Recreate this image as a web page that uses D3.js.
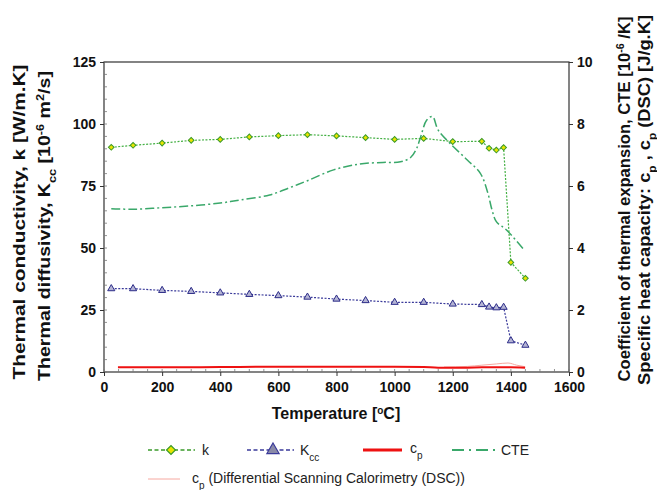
<!DOCTYPE html>
<html><head><meta charset="utf-8">
<script src="https://cdn.jsdelivr.net/npm/d3@7"></script>
<style>body{margin:0;background:#fff}svg{display:block}text{font-family:Arial,"Liberation Sans",sans-serif}</style>
</head><body><svg id="c" width="657" height="490"></svg>
<script>
// ---- data ----
const tempK = [25,100,200,300,400,500,600,700,800,900,1000,1100,1200,1300,1325,1350,1375,1400,1450];
const kVals = [90.6,91.4,92.3,93.4,93.8,94.8,95.3,95.7,95.2,94.5,93.8,94.2,92.9,93.0,90.2,89.5,90.5,44.2,37.8];
const kccVals = [33.6,33.6,32.9,32.5,31.9,31.3,30.8,30.2,29.4,28.8,28.1,28.1,27.4,27.2,26.2,25.9,26.1,12.6,10.8];
const cteT = [25,100,200,300,400,470,570,640,700,790,880,960,1020,1055,1075,1090,1110,1130,1150,1190,1250,1295,1320,1335,1350,1385,1445];
const cteVals = [5.27,5.25,5.3,5.36,5.45,5.55,5.71,5.95,6.17,6.52,6.71,6.76,6.78,6.92,7.2,7.6,8.12,8.24,7.8,7.38,6.84,6.41,5.8,5.23,4.85,4.58,3.94];
const cpT = [48,200,400,600,800,1000,1100,1150,1250,1300,1350,1400,1449];
const cpVals = [0.15,0.15,0.16,0.17,0.17,0.17,0.16,0.14,0.14,0.15,0.15,0.15,0.14];
const dscT = [1170,1250,1300,1350,1390,1420,1449];
const dscVals = [0.16,0.18,0.22,0.26,0.29,0.22,0.17];
const xTicks = [0,200,400,600,800,1000,1200,1400,1600];
const yLeftTicks = [0,25,50,75,100,125];
const yRightTicks = [0,2,4,6,8,10];

// ---- layout ----
const L=104,R=569,T=62,B=372;
const svg=d3.select("#c");
const x=d3.scaleLinear().domain([0,1600]).range([L,R]);
const yl=d3.scaleLinear().domain([0,125]).range([B,T]);
const yr=d3.scaleLinear().domain([0,10]).range([B,T]);

// frame
svg.append("rect").attr("x",L).attr("y",T).attr("width",R-L).attr("height",B-T)
  .attr("fill","none").attr("stroke","#333").attr("stroke-width",1.2);

// minor ticks
const g=svg.append("g").attr("stroke","#777").attr("stroke-width",0.8);
d3.range(0,1601,50).forEach(v=>{g.append("line").attr("x1",x(v)).attr("x2",x(v)).attr("y1",B).attr("y2",B-3);});
d3.range(0,126,5).forEach(v=>{g.append("line").attr("x1",L).attr("x2",L+3).attr("y1",yl(v)).attr("y2",yl(v));});

// axes
const fmt=d3.format("d");
const ax=svg.append("g").attr("transform",`translate(0,${B})`).call(d3.axisBottom(x).tickValues(xTicks).tickFormat(fmt).tickSize(4).tickSizeOuter(0).tickPadding(3));
const ayl=svg.append("g").attr("transform",`translate(${L},0)`).call(d3.axisLeft(yl).tickValues(yLeftTicks).tickFormat(fmt).tickSize(4).tickSizeOuter(0).tickPadding(4));
const ayr=svg.append("g").attr("transform",`translate(${R},0)`).call(d3.axisRight(yr).tickValues(yRightTicks).tickFormat(fmt).tickSize(4).tickSizeOuter(0).tickPadding(4));
[ax,ayl,ayr].forEach(a=>{a.select(".domain").remove();a.selectAll("line").attr("stroke","#333");
  a.selectAll("text").attr("font-size",14).attr("font-weight","bold").attr("fill","#111");});
ax.selectAll("text").attr("dy","0.9em");

// lines
const line=(xs,ys,sc)=>d3.line().x((d,i)=>x(xs[i])).y(d=>sc(d));
// DSC pink
svg.append("path").attr("d",line(dscT,dscVals,yr).curve(d3.curveMonotoneX)(dscVals))
  .attr("fill","none").attr("stroke","#f6a8a0").attr("stroke-width",1);
// cp red
svg.append("path").attr("d",line(cpT,cpVals,yr).curve(d3.curveMonotoneX)(cpVals))
  .attr("fill","none").attr("stroke","#ee1111").attr("stroke-width",2);
// CTE
svg.append("path").attr("d",line(cteT,cteVals,yr).curve(d3.curveCatmullRom)(cteVals))
  .attr("fill","none").attr("stroke","#3aa86a").attr("stroke-width",1.5).attr("stroke-dasharray","9,3,2,3");
// Kcc
svg.append("path").attr("d",line(tempK,kccVals,yl)(kccVals))
  .attr("fill","none").attr("stroke","#3a3a9a").attr("stroke-width",1.2).attr("stroke-dasharray","2,1.5");
const tri=d3.symbol().type(d3.symbolTriangle).size(22);
svg.selectAll(".tri").data(kccVals).join("path").attr("d",tri())
  .attr("transform",(d,i)=>`translate(${x(tempK[i])},${yl(d)})`)
  .attr("fill","#b4b4d4").attr("stroke","#2c2c88").attr("stroke-width",1);
// k
svg.append("path").attr("d",line(tempK,kVals,yl)(kVals))
  .attr("fill","none").attr("stroke","#44b044").attr("stroke-width",1.2).attr("stroke-dasharray","2,1.5");
const dia=d3.symbol().type(d3.symbolSquare).size(16);
svg.selectAll(".dia").data(kVals).join("path").attr("d",dia())
  .attr("transform",(d,i)=>`translate(${x(tempK[i])},${yl(d)}) rotate(45)`)
  .attr("fill","#e8e400").attr("stroke","#3a9a2a").attr("stroke-width",1);

// axis titles
function vtitle(cx,cy,len,parts){
  const t=svg.append("text").attr("transform",`translate(${cx},${cy}) rotate(-90)`)
    .attr("text-anchor","middle").attr("font-size",17).attr("font-weight","bold").attr("fill","#111")
    .attr("textLength",len).attr("lengthAdjust","spacingAndGlyphs");
  parts.forEach(p=>{const s=t.append("tspan").text(p[0]);
    if(p[1]==="sup"){s.attr("baseline-shift","super").attr("font-size",11);}
    if(p[1]==="sub"){s.attr("baseline-shift","sub").attr("font-size",11);} });
}
vtitle(25,222,315,[["Thermal conductivity, k [W/m.K]"]]);
vtitle(50,226,310,[["Thermal diffusivity, K"],["cc","sub"],[" [10"],["-6","sup"],[" m"],["2","sup"],["/s]"]]);
vtitle(630,199,365,[["Coefficient of thermal expansion, CTE [10"],["-6","sup"],[" /K]"]]);
vtitle(650,200,370,[["Specific heat capacity: c"],["p","sub"],[" , c"],["p","sub"],[" (DSC) [J/g.K]"]]);

const xt=svg.append("text").attr("x",336).attr("y",419).attr("text-anchor","middle")
  .attr("font-size",16).attr("font-weight","bold").attr("fill","#111");
xt.append("tspan").text("Temperature [");
xt.append("tspan").text("o").attr("baseline-shift","super").attr("font-size",10);
xt.append("tspan").text("C]");

// legend
const lg=svg.append("g");
function lgText(xp,yp,parts){const t=lg.append("text").attr("x",xp).attr("y",yp).attr("font-size",14).attr("fill","#222");
  parts.forEach(p=>{const s=t.append("tspan").text(p[0]); if(p[1]==="sub")s.attr("baseline-shift","sub").attr("font-size",10);});}
const ly=450;
lg.append("line").attr("x1",148).attr("x2",195).attr("y1",ly).attr("y2",ly).attr("stroke","#3a9a2a").attr("stroke-width",1.5).attr("stroke-dasharray","4,2.5");
lg.append("path").attr("d",d3.symbol().type(d3.symbolSquare).size(40)()).attr("transform",`translate(171,${ly}) rotate(45)`).attr("fill","#e8e400").attr("stroke","#3a9a2a").attr("stroke-width",1.2);
lgText(202,ly+5,[["k"]]);
lg.append("line").attr("x1",247).attr("x2",294).attr("y1",ly).attr("y2",ly).attr("stroke","#3a3a9a").attr("stroke-width",1.5).attr("stroke-dasharray","4,2.5");
lg.append("path").attr("d",d3.symbol().type(d3.symbolTriangle).size(65)()).attr("transform",`translate(273,${ly})`).attr("fill","#8a8aa8").attr("stroke","#3a3a9a").attr("stroke-width",1.2);
lgText(300,ly+5,[["K"],["cc","sub"]]);
lg.append("line").attr("x1",363).attr("x2",402).attr("y1",ly).attr("y2",ly).attr("stroke","#ee1111").attr("stroke-width",3);
lgText(410,ly+3,[["c"],["p","sub"]]);
lg.append("line").attr("x1",452).attr("x2",495).attr("y1",ly).attr("y2",ly).attr("stroke","#3aa86a").attr("stroke-width",2).attr("stroke-dasharray","12,5,2,5");
lgText(501,ly+5,[["CTE"]]);
const ly2=479;
lg.append("line").attr("x1",148).attr("x2",180).attr("y1",ly2).attr("y2",ly2).attr("stroke","#f6a8a0").attr("stroke-width",1);
lgText(192,ly2+4,[["c"],["p","sub"],[" (Differential Scanning Calorimetry (DSC))"]]);
</script></body></html>
